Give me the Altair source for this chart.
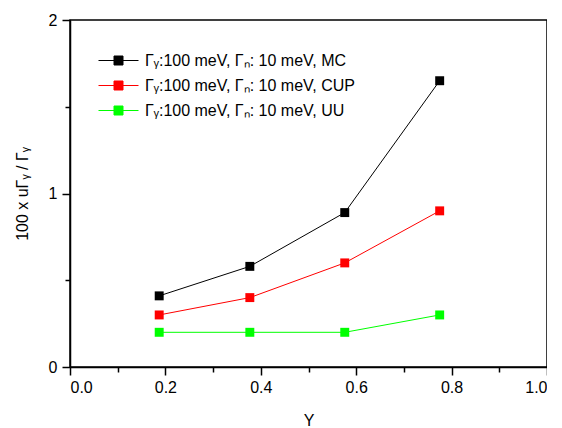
import altair as alt
import pandas as pd

x_vals = [0.187, 0.377, 0.576, 0.775]
mc = [0.41, 0.58, 0.89, 1.65]
cup = [0.30, 0.40, 0.60, 0.90]
uu = [0.20, 0.20, 0.20, 0.30]
labels = [
    "Γᵧ:100 meV, Γₙ: 10 meV, MC",
    "Γᵧ:100 meV, Γₙ: 10 meV, CUP",
    "Γᵧ:100 meV, Γₙ: 10 meV, UU",
]
colors = ["#000000", "#ff0000", "#00ff00"]

rows = []
for lab, ys in zip(labels, [mc, cup, uu]):
    for xv, yv in zip(x_vals, ys):
        rows.append({"x": xv, "y": yv, "series": lab})
df = pd.DataFrame(rows)

font = "Liberation Sans"

color = alt.Color(
    "series:N",
    scale=alt.Scale(domain=labels, range=colors),
    sort=labels,
    legend=alt.Legend(
        title=None,
        orient="none",
        legendX=38,
        legendY=30,
        symbolType="M-2,0H-0.45M0.45,0H2M-0.45,-0.45H0.45V0.45H-0.45Z",
        symbolSize=400,
        symbolStrokeWidth=1,
        labelFont=font,
        labelFontSize=16,
        labelColor="#000",
        labelOffset=16,
        labelLimit=400,
        rowPadding=6,
    ),
)

xaxis = alt.Axis(
    values=[round(i * 0.1, 1) for i in range(11)],
    labelExpr="abs(datum.value*5 - round(datum.value*5)) < 0.001 ? format(datum.value, '.1f') : ''",
    tickSize={"condition": {"test": "abs(datum.value*5 - round(datum.value*5)) < 0.001", "value": 8}, "value": 5},
    grid=False,
    title="Y",
    labelFont=font, labelFontSize=16, labelColor="#000", labelPadding=4,
    titleFont=font, titleFontSize=16, titleFontWeight="normal", titleColor="#000", titlePadding=17,
    domainColor="#000", tickColor="#000", domainWidth=1.5, tickWidth=1.5,
)
yaxis = alt.Axis(
    values=[0, 0.5, 1, 1.5, 2],
    labelExpr="datum.value % 1 == 0 ? format(datum.value, 'd') : ''",
    tickSize={"condition": {"test": "datum.value % 1 == 0", "value": 8}, "value": 5},
    grid=False,
    title="100 x uΓᵧ / Γᵧ",
    labelFont=font, labelFontSize=16, labelColor="#000", labelPadding=5,
    titleFont=font, titleFontSize=16, titleFontWeight="normal", titleColor="#000", titlePadding=18,
    domainColor="#000", tickColor="#000", domainWidth=1.5, tickWidth=1.5,
)

base = alt.Chart(df).encode(
    x=alt.X("x:Q", scale=alt.Scale(domain=[0, 1], nice=False), axis=xaxis),
    y=alt.Y("y:Q", scale=alt.Scale(domain=[0, 2], nice=False), axis=yaxis),
    color=color,
)

lines = base.mark_line(strokeWidth=1)
points = base.mark_point(shape="square", filled=True, size=80, opacity=1)

chart = (
    alt.layer(lines, points)
    .properties(
        width=477,
        height=347,
        autosize=alt.AutoSizeParams(type="none"),
        padding={"left": 62, "top": 12, "right": 0, "bottom": 60},
        background="white",
    )
    .configure_view(stroke="#000", strokeWidth=1.5)
)

chart.save("out.html", embed_options={"renderer": "svg", "actions": False})
